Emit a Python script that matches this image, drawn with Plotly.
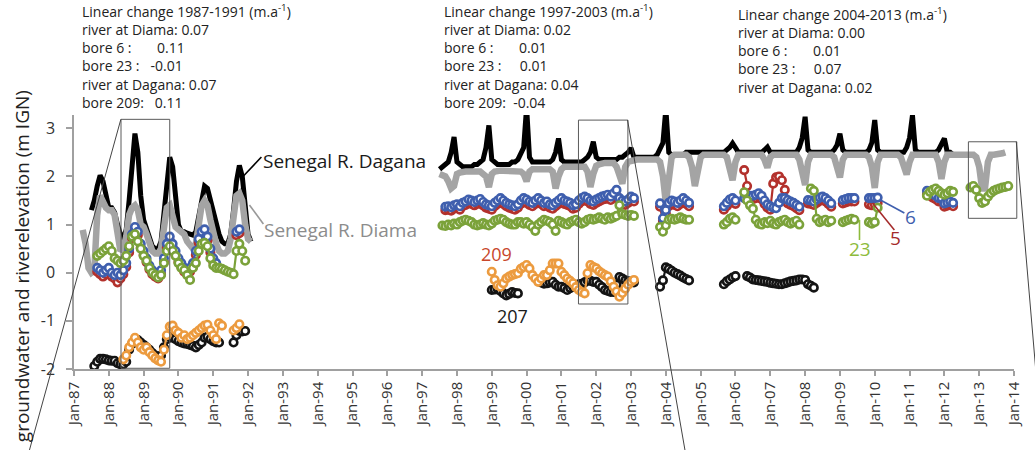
import plotly.graph_objects as go

# ---------------- layout constants ----------------
W, H = 1035, 450
ML, MR, MT, MB = 74, 18, 115, 81
X_RANGE = [1987, 2014]
Y_RANGE = [-2, 3.276]
PW, PH = W - ML - MR, H - MT - MB

TICK_YEARS = list(range(1987, 2015))
TICK_LABELS = ["Jan-87", "Jan-88", "Jan-89", "Jan-90", "Jan-91", "Jan-92", "Jan-93",
               "Jan-94", "Jan-95", "Jan-96", "Jan-97", "Jan-98", "Jan-99", "Jan-00",
               "Jan-01", "Jan-02", "Jan-03", "Jan-04", "Jan-05", "Jan-06", "Jan-07",
               "Jan-08", "Jan-09", "Jan-10", "Jan-11", "Jan-12", "Jan-13", "Jan-14"]

# ---------------- data (monthly values, start = decimal year) ----------------
DAGANA_L_START = 1987.5
DAGANA_L = [1.3, 1.5, 1.8, 2.02, 1.9, 1.55,
            1.35, 1.35, 1.25, 1.0, 0.8, 0.7, 0.9, 1.5, 2.2, 2.89, 2.5, 1.6,
            1.1, 0.9, 0.7, 0.55, 0.5, 0.5, 0.65, 1.2, 1.9, 2.4, 2.2, 1.5,
            1.0, 0.85, 0.85, 0.82, 0.8, 0.78, 0.85, 1.2, 1.6, 1.8, 1.75, 1.5,
            1.35, 1.1, 0.8, 0.65, 0.6, 0.6, 0.8, 1.3, 1.9, 2.23, 2.0, 1.4,
            0.8, 0.65]

DIAMA_L_START = 1987.25
DIAMA_L = [0.89, 0.6, 0.1, 0.0, 0.05, 1.2, 1.6, 1.45, 1.35,
           1.3, 1.3, 1.2, 0.8, 0.45, 0.5, 0.75, 1.2, 1.35, 1.4, 1.3, 1.0,
           0.95, 0.8, 0.6, 0.45, 0.4, 0.4, 0.5, 0.9, 1.35, 1.4, 1.2, 0.95,
           0.9, 0.85, 0.8, 0.65, 0.55, 0.5, 0.6, 1.0, 1.4, 1.5, 1.4, 1.1,
           0.8, 0.6, 0.45, 0.4, 0.4, 0.45, 0.7, 1.2, 1.6, 1.65, 1.5, 1.0,
           0.7, 0.65]

DAGANA_R_START = 1997.5
DAGANA_R = [2.15, 2.2, 2.22, 2.3, 2.5, 2.82,
            2.3, 2.25, 2.2, 2.2, 2.2, 2.2, 2.25, 2.25, 2.3, 2.35, 2.6, 3.06,
            2.35, 2.3, 2.25, 2.25, 2.25, 2.25, 2.25, 2.3, 2.3, 2.35, 2.45, 2.6,
            3.44, 2.4, 2.3, 2.3, 2.3, 2.3, 2.3, 2.3, 2.3, 2.35, 2.5, 2.79,
            2.35, 2.3, 2.3, 2.3, 2.3, 2.3, 2.3, 2.3, 2.35, 2.4, 2.5, 2.72,
            2.4, 2.35, 2.35, 2.35, 2.35, 2.35, 2.35, 2.35, 2.4, 2.4, 2.45, 2.5,
            2.59, 2.4, 2.4, 2.4, 2.4, 2.4, 2.4, 2.4, 2.4, 2.45, 2.55, 2.7,
            3.41, 2.5, 2.45, 2.45, 2.45, 2.45, 2.45, 2.5, 2.5, 2.5, 2.5, 2.5,
            2.5, 2.5, 2.5, 2.5, 2.5, 2.5, 2.5, 2.5, 2.5, 2.55, 2.6, 2.69,
            2.6, 2.5, 2.5, 2.5, 2.5, 2.5, 2.5, 2.5, 2.5, 2.5, 2.55, 2.61,
            2.5, 2.5, 2.5, 2.5, 2.5, 2.5, 2.5, 2.5, 2.5, 2.5, 2.6, 2.8,
            3.24, 2.55, 2.5, 2.5, 2.5, 2.5, 2.5, 2.5, 2.5, 2.5, 2.55, 2.65,
            2.89, 2.55, 2.5, 2.5, 2.5, 2.5, 2.5, 2.5, 2.5, 2.5, 2.55, 2.7,
            3.17, 2.55, 2.5, 2.5, 2.5, 2.5, 2.5, 2.5, 2.5, 2.5, 2.5, 2.6,
            2.8, 3.27, 2.55, 2.5, 2.5, 2.5, 2.5, 2.5, 2.5, 2.5, 2.55, 2.65,
            2.79, 2.5, 2.5, 2.45]

DIAMA_R_START = 1997.5
DIAMA_R = [2.05, 2.02, 2.0, 1.9, 1.75, 1.8,
           2.05, 2.08, 2.1, 2.1, 2.1, 2.1, 2.1, 2.1, 2.1, 2.05, 2.0, 1.78,
           2.05, 2.1, 2.12, 2.12, 2.12, 2.12, 2.12, 2.12, 2.12, 2.1, 2.1, 2.05,
           1.9, 2.1, 2.15, 2.15, 2.15, 2.15, 2.15, 2.15, 2.15, 2.1, 1.75, 2.0,
           2.15, 2.2, 2.2, 2.2, 2.2, 2.2, 2.2, 2.2, 2.2, 2.1, 1.78, 2.05,
           2.22, 2.25, 2.28, 2.28, 2.28, 2.28, 2.28, 2.2, 2.05, 1.85, 2.2, 2.3,
           2.32, 2.35, 2.35, 2.35, 2.35, 2.35, 2.35, 2.35, 2.35, 2.35, 2.3, 2.0,
           1.45, 2.1, 2.4, 2.45, 2.45, 2.45, 2.45, 2.45, 2.4, 2.2, 1.8, 2.15,
           2.4, 2.45, 2.45, 2.45, 2.45, 2.45, 2.45, 2.45, 2.45, 2.4, 2.2, 1.92,
           2.3, 2.45, 2.45, 2.45, 2.45, 2.45, 2.45, 2.45, 2.45, 2.45, 2.35, 2.18,
           2.4, 2.45, 2.45, 2.45, 2.45, 2.45, 2.45, 2.45, 2.45, 2.45, 2.35, 2.1,
           1.82, 2.3, 2.45, 2.45, 2.45, 2.45, 2.45, 2.45, 2.45, 2.45, 2.4, 2.2,
           1.98, 2.35, 2.45, 2.45, 2.45, 2.45, 2.45, 2.45, 2.45, 2.45, 2.4, 2.2,
           1.76, 2.3, 2.45, 2.45, 2.45, 2.45, 2.45, 2.45, 2.45, 2.4, 2.25, 2.04,
           2.3, 2.45, 2.45, 2.45, 2.45, 2.45, 2.45, 2.45, 2.45, 2.45, 2.3, 1.95,
           2.3, 2.45, 2.45, 2.45, 2.45, 2.45, 2.45, 2.45, 2.45, 2.45, 2.45, 2.4,
           2.2, 1.75, 1.75, 2.3, 2.45, 2.45, 2.45, 2.45, 2.48, 2.5]

N = None
BORE6_L_START = 1987.6667
BORE6_L = [0.1, 0.05, 0.0, 0.05,
           0.1, 0.0, -0.05, 0.0, -0.05, 0.05, 0.2, 0.5, 0.8, 0.95, 0.85, 0.6,
           0.45, 0.3, 0.15, 0.05, 0.0, -0.05, 0.05, 0.3, 0.6, 0.75, 0.6, 0.45,
           0.3, 0.2, 0.1, 0.05, 0.1, 0.2, 0.45, 0.7, 0.85, 0.9, 0.75, 0.5,
           0.3, 0.2, N, N, N, N, N, N, 0.85, 0.9]
BORE5_L_START = 1987.6667
BORE5_L = [0.02, -0.03, -0.08, -0.03,
           0.02, -0.08, -0.12, -0.2, -0.12, -0.03, 0.12, 0.42, 0.72, 0.88, 0.78, 0.52,
           0.37, 0.22, 0.07, -0.03, -0.08, -0.12, -0.03, 0.22, 0.52, 0.67, 0.52, 0.37,
           0.22, 0.12, 0.02, -0.03, 0.02, 0.12, 0.37, 0.62, 0.78, 0.82, 0.67, 0.42,
           0.22, 0.12, N, N, N, N, N, N, 0.78, 0.82]
BORE23_L_START = 1987.6667
BORE23_L = [0.35, 0.4, 0.45, 0.5,
            0.55, 0.45, 0.3, 0.25, 0.2, 0.25, 0.35, 0.55, 0.75, 0.8, 0.65, 0.5,
            0.35, 0.25, 0.1, 0.0, -0.05, -0.1, -0.05, 0.2, 0.45, 0.55, 0.45, 0.35,
            0.2, 0.1, 0.05, -0.05, -0.15, 0.1, 0.2, 0.45, 0.6, 0.62, 0.55, 0.3,
            0.15, 0.1, 0.1, 0.08, 0.05, 0.02, 0.0, -0.03, 0.45, 0.6, 0.45, 0.25]
BORE207_L_START = 1987.5833
BORE207_L = [-1.94, -1.85, -1.79, -1.79, -1.8,
             -1.82, -1.83, -1.83, -1.88, -1.9, -1.9, -1.85, -1.6, -1.48, -1.4, -1.4, -1.45,
             -1.5, -1.55, -1.6, -1.67, -1.72, -1.75, -1.72, -1.55, -1.38, -1.33, -1.35, -1.38,
             -1.42, -1.45, -1.47, -1.48, -1.5, -1.52, -1.55, -1.5, -1.45, -1.35, -1.33, -1.38,
             -1.42, -1.45, -1.45, N, N, N, N, -1.45, -1.3, -1.21, -1.22, -1.21]
BORE209_L_START = 1988.4167
BORE209_L = [-1.8, -1.72, -1.55, -1.45, -1.35, -1.45, -1.55, -1.6,
             -1.55, -1.65, -1.72, -1.78, -1.82, -1.85, -1.6, -1.3, -1.12, -1.1, -1.2, -1.25,
             -1.35, -1.3, -1.38, -1.35, -1.3, -1.25, -1.2, -1.15, -1.1, -1.08, -1.2, -1.3,
             -1.38, -1.05, -1.1, N, N, N, -1.2, -1.15, -1.07]

BORE6_R_START = 1997.6667
BORE6_R = [1.37, 1.38, 1.36, 1.4,
           1.42, 1.38, 1.45, 1.48, 1.52, 1.5, 1.47, 1.5, 1.53, 1.47, 1.42, 1.4,
           1.38, 1.45, 1.5, 1.55, 1.5, 1.45, 1.42, 1.4, 1.38, 1.42, 1.5, 1.55,
           1.52, 1.48, 1.45, 1.5, 1.55, 1.5, 1.45, 1.48, 1.42, 1.4, 1.45, 1.5,
           1.55, 1.5, 1.48, 1.45, 1.4, 1.42, 1.5, 1.55, 1.58, 1.55, 1.5, 1.48,
           1.52, 1.55, 1.58, 1.6, 1.62, 1.58, 1.65, 1.72, 1.55, 1.5, 1.48, 1.52,
           1.58, 1.55, N, N, N, N, N, N, N, N, 1.44, 1.13,
           1.3, 1.45, 1.5, 1.48, 1.45, 1.5, 1.55, 1.5, 1.45, N, N, N,
           N, N, N, N, N, N, N, N, 1.38, 1.45, 1.52, 1.55,
           1.5, N, N, 1.55, 1.58, 1.6, 1.6, 1.62, 1.65, 1.6, 1.5, 1.42,
           1.38, 1.35, 1.34, 1.45, 1.55, 1.55, 1.51, 1.48, 1.45, 1.41, 1.37, N,
           N, 1.51, 1.5, 1.48, 1.52, 1.56, 1.58, 1.55, 1.5, 1.44, N, N,
           N, 1.51, 1.53, 1.55, 1.55, 1.55, N, N, N, N, 1.55, 1.55,
           1.55, 1.56, N, N, N, N, N, N, N, N, N, N,
           N, N, N, N, N, N, 1.7, 1.67, 1.63, 1.6, 1.55, 1.55,
           1.44, 1.46, 1.48, 1.45]
BORE5_R_START = 1997.6667
BORE5_R = [1.3, 1.31, 1.29, 1.33,
           1.35, 1.31, 1.38, 1.41, 1.45, 1.43, 1.4, 1.43, 1.46, 1.4, 1.35, 1.33,
           1.31, 1.38, 1.43, 1.48, 1.43, 1.38, 1.35, 1.33, 1.31, 1.35, 1.43, 1.48,
           1.45, 1.41, 1.38, 1.43, 1.48, 1.43, 1.38, 1.41, 1.35, 1.33, 1.38, 1.43,
           1.48, 1.43, 1.41, 1.38, 1.33, 1.35, 1.43, 1.48, 1.51, 1.48, 1.43, 1.41,
           1.45, 1.48, 1.51, 1.53, 1.55, 1.51, 1.58, 1.6, 1.48, 1.43, 1.41, 1.45,
           1.5, 1.48, N, N, N, N, N, N, N, N, 1.37, 1.08,
           1.23, 1.38, 1.43, 1.41, 1.38, 1.43, 1.48, 1.43, 1.38, N, N, N,
           N, N, N, N, N, N, N, N, 1.31, 1.38, 1.45, 1.48,
           1.43, N, N, 2.13, 1.8, 1.53, 1.53, 1.55, 1.58, 1.53, 1.43, 1.35,
           1.31, 1.85, 1.98, 2.0, 1.92, 1.72, 1.44, 1.41, 1.38, 1.34, 1.3, N,
           N, 1.44, 1.43, 1.41, 1.45, 1.49, 1.51, 1.48, 1.43, 1.37, N, N,
           N, 1.44, 1.46, 1.48, 1.48, 1.48, N, N, N, N, 1.42, 1.4,
           1.42, 1.45, N, N, N, N, N, N, N, N, N, N,
           N, N, N, N, N, N, 1.63, 1.6, 1.56, 1.53, 1.48, 1.48,
           1.37, 1.39, 1.41, 1.38]
BORE23_R_START = 1997.5833
BORE23_R = [0.98, 0.97, 1.0, 0.98, 1.02,
            1.0, 1.05, 1.08, 1.1, 1.08, 1.05, 1.0, 0.98, 1.0, 1.03, 1.0, 0.98,
            1.02, 1.08, 1.1, 1.12, 1.1, 1.05, 1.02, 1.0, 1.0, 1.05, 1.05, 1.02,
            1.05, 1.0, 0.95, 0.87, 1.0, 1.05, 1.1, 1.08, 1.05, 1.0, 0.87, 1.08,
            1.05, 1.02, 1.0, 1.05, 1.08, 1.1, 1.05, 1.02, 1.05, 1.1, 1.12, 1.1,
            1.12, 1.15, 1.12, 1.1, 1.15, 1.12, 1.15, 1.18, 1.4, 1.22, 1.2, 1.18,
            1.2, 1.18, N, N, N, N, N, N, N, N, 0.95, 0.85,
            0.98, 1.1, 1.12, 1.1, 1.12, 1.15, 1.12, 1.1, 1.1, N, N, N,
            N, N, N, N, N, N, N, N, 1.0, 1.05, 1.12, 1.15,
            1.1, N, N, 1.67, 1.5, 1.4, 1.33, 1.1, 1.02, 1.0, 1.05, 1.03,
            1.08, 1.02, 1.0, 1.05, 1.08, 1.1, 1.05, 1.02, 1.05, 1.08, 1.0, N,
            N, N, 1.75, 1.7, 1.12, 1.05, 1.08, 1.1, 1.05, 1.08, N, N,
            N, 1.05, 1.08, 1.1, 1.12, 1.1, N, N, N, N, 1.05, 1.02,
            1.05, 1.35, N, N, N, N, N, N, N, N, N, N,
            N, N, N, N, N, N, 1.6, 1.68, 1.72, 1.75, 1.7, 1.65,
            1.62, 1.65, 1.7, 1.68, N, N, N, N, N, 1.77, 1.8, 1.72,
            1.55, 1.45, 1.48, 1.58, 1.65, 1.7, 1.73, 1.75, 1.77, 1.78, 1.8]
BORE209_R_START = 1999.0
BORE209_R = [0.02, -0.15, -0.26, -0.29, -0.22, -0.12, -0.08, -0.05, -0.03, -0.01, 0.08, 0.12,
             0.16, 0.09, -0.05, -0.12, -0.19, -0.12, -0.05, -0.05, 0.05, 0.19, 0.19, 0.19,
             0.02, -0.05, -0.12, -0.17, -0.22, -0.3, -0.36, -0.4, -0.43, -0.01, 0.16, 0.12,
             0.09, 0.03, -0.01, -0.05, -0.08, -0.18, -0.29, -0.39, -0.5, -0.42, -0.33, -0.25,
             -0.19, -0.15]
BORE207_R_START = 1999.0
BORE207_R = [-0.36, -0.35, -0.33, -0.38, -0.43, -0.47, -0.44, -0.4, -0.42, -0.43, N, N,
             N, N, N, N, -0.16, -0.2, -0.23, -0.22, -0.2, -0.19, -0.25, -0.29,
             -0.29, -0.32, -0.36, -0.32, -0.29, -0.26, -0.24, -0.23, -0.2, -0.16, -0.17, -0.19,
             -0.19, -0.25, -0.3, -0.36, -0.38, -0.4, -0.4, -0.25, -0.09, -0.12, -0.16, -0.18,
             -0.19, -0.2, N, N, N, N, N, N, N, N, -0.29, -0.16,
             0.11, 0.08, 0.04, 0.0, -0.03, -0.06, -0.1, -0.13, -0.16, N, N, N,
             N, N, N, N, N, N, N, N, -0.24, -0.18, -0.14, -0.1,
             -0.07, N, N, N, -0.07, -0.1, -0.14, -0.15, -0.16, -0.17, -0.18, -0.19,
             -0.21, -0.22, -0.23, -0.24, -0.24, -0.22, -0.2, -0.18, -0.17, -0.16, -0.14, -0.14,
             -0.15, -0.24, -0.27, -0.31]

# zoom boxes (decimal year, value)
BOXES = [(1988.35, 1989.75, -1.985, 3.186),
         (2001.49, 2002.91, -0.65, 3.17),
         (2012.69, 2014.08, 1.13, 2.72)]

# ---------------- helpers ----------------
def months(start, vals):
    return [start + i / 12 for i in range(len(vals))]

def join(a_start, a, b_start, b):
    return months(a_start, a) + [None] + months(b_start, b), a + [None] + b

def px_x(p):  # pixel -> paper x
    return (p - ML) / PW

def px_y(p):  # pixel -> paper y
    return (H - MB - p) / PH

def d_x(t):  # data -> paper x
    return (t - X_RANGE[0]) / (X_RANGE[1] - X_RANGE[0])

def d_y(v):
    return (v - Y_RANGE[0]) / (Y_RANGE[1] - Y_RANGE[0])

C_BLUE = "#3f5fae"
C_RED = "#b3312c"
C_GREEN = "#7ba23a"
C_ORANGE = "#ec9b3f"
C_BLK = "#141414"
C_GRAY = "#a4a4a4"

fig = go.Figure()

x, y = join(DAGANA_L_START, DAGANA_L, DAGANA_R_START, DAGANA_R)
fig.add_trace(go.Scatter(x=x, y=y, mode="lines", line=dict(color="#000000", width=5),
                         connectgaps=False, hoverinfo="skip"))
x, y = join(DIAMA_L_START, DIAMA_L, DIAMA_R_START, DIAMA_R)
fig.add_trace(go.Scatter(x=x, y=y, mode="lines", line=dict(color=C_GRAY, width=6.5),
                         connectgaps=False, hoverinfo="skip"))

def bore(xl, yl, color):
    fig.add_trace(go.Scatter(
        x=xl, y=yl, mode="lines+markers", connectgaps=False, hoverinfo="skip",
        line=dict(color=color, width=2.2),
        marker=dict(symbol="circle", size=7.5, color="white",
                    line=dict(color=color, width=2.6))))

bore(*join(BORE5_L_START, BORE5_L, BORE5_R_START, BORE5_R), C_RED)
bore(*join(BORE6_L_START, BORE6_L, BORE6_R_START, BORE6_R), C_BLUE)
bore(*join(BORE23_L_START, BORE23_L, BORE23_R_START, BORE23_R), C_GREEN)
bore(*join(BORE207_L_START, BORE207_L, BORE207_R_START, BORE207_R), C_BLK)
bore(*join(BORE209_L_START, BORE209_L, BORE209_R_START, BORE209_R), C_ORANGE)

shapes = []
for (t0, t1, v0, v1) in BOXES:
    shapes.append(dict(type="rect", xref="paper", yref="paper",
                       x0=d_x(t0), x1=d_x(t1), y0=d_y(v0), y1=d_y(v1),
                       line=dict(color="#5a5a5a", width=1), layer="above"))

def seg(x0, y0, x1, y1, color, width=1.0):
    shapes.append(dict(type="line", xref="paper", yref="paper",
                       x0=px_x(x0), y0=px_y(y0), x1=px_x(x1), y1=px_y(y1),
                       line=dict(color=color, width=width), layer="above"))

# zoom connector lines
seg(121, 119.3, 26, 462, "#444444", 1)
seg(629.3, 120, 689, 462, "#444444", 1)
seg(1019.3, 141.7, 1046.7, 462, "#444444", 1)
# leader lines
seg(244, 176, 262, 157, "#000000", 1.6)
seg(250, 205, 264, 224, "#999999", 1.6)
seg(883, 200, 907, 213, C_BLUE, 1.6)
seg(875, 203, 897, 230, "#a52a2a", 1.6)
seg(862, 220, 862, 240, "#8dbb3c", 1.6)

ann = []
FONT = "Open Sans"

def text(px, py, s, size=15, color="#222222", xanchor="left", angle=0):
    ann.append(dict(xref="paper", yref="paper", x=px_x(px), y=px_y(py), text=s,
                    showarrow=False, xanchor=xanchor, yanchor="middle", align="left",
                    textangle=angle, font=dict(family=FONT, size=size, color=color)))

S = "\u00a0"
BLOCK1 = ["Linear change 1987-1991 (m.a<sup>-1</sup>)", "river at Diama: 0.07",
          "bore 6 :" + S * 7 + "0.11", "bore 23 :" + S * 3 + "-0.01",
          "river at Dagana: 0.07", "bore 209:" + S * 3 + "0.11"]
BLOCK2 = ["Linear change 1997-2003 (m.a<sup>-1</sup>)", "river at Diama: 0.02",
          "bore 6 :" + S * 7 + "0.01", "bore 23 :" + S * 5 + "0.01",
          "river at Dagana: 0.04", "bore 209:" + S * 2 + "-0.04"]
BLOCK3 = ["Linear change 2004-2013 (m.a<sup>-1</sup>)", "river at Diama: 0.00",
          "bore 6 :" + S * 7 + "0.01", "bore 23 :" + S * 5 + "0.07",
          "river at Dagana: 0.02"]
text(80, 57, "<br>".join(BLOCK1), 14)
text(443, 57, "<br>".join(BLOCK2), 14)
text(738, 50.5, "<br>".join(BLOCK3), 14)

text(262, 161, "Senegal R. Dagana", 19, "#1a1a1a")
text(263, 230, "Senegal R. Diama", 19, "#8c8c8c")
text(913, 217, "6", 19, C_BLUE, "center")
text(898, 237.5, "5", 19, "#a52a2a", "center")
text(863, 249, "23", 19, "#8dbb3c", "center")
text(498, 254, "209", 18, "#c8472b", "center")
text(514, 316, "207", 18, "#1a1a1a", "center")
text(22, 266, "groundwater and riverelevation (m IGN)", 19, "#222222", "center", -90)

fig.update_layout(
    width=W, height=H, margin=dict(l=ML, r=MR, t=MT, b=MB),
    paper_bgcolor="white", plot_bgcolor="white", showlegend=False,
    shapes=shapes, annotations=ann,
    font=dict(family=FONT, color="#333333"),
    xaxis=dict(range=X_RANGE, tickmode="array", tickvals=TICK_YEARS, ticktext=TICK_LABELS,
               tickangle=-90, showgrid=False, zeroline=False, showline=True,
               linecolor="#a0a0a0", linewidth=1.5, ticks="outside", ticklen=5,
               tickcolor="#a0a0a0", tickwidth=1.5, tickfont=dict(size=15, color="#333333")),
    yaxis=dict(range=Y_RANGE, tickmode="array", tickvals=[-2, -1, 0, 1, 2, 3],
               ticktext=["-2", "-1", "0", "1", "2", "3"],
               showgrid=False, zeroline=False, showline=True, linecolor="#a0a0a0",
               linewidth=1.5, ticks="outside", ticklen=6, tickcolor="#a0a0a0",
               tickwidth=1.5, ticklabelstandoff=8, tickfont=dict(size=16, color="#333333")),
)

fig.write_html("out.html")
